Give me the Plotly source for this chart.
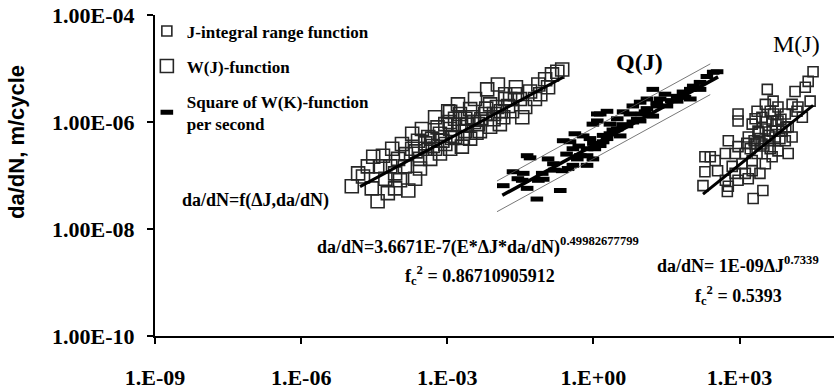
import numpy as np
import plotly.graph_objects as go

# ---- data (decimal exponents, log10) ----
# W(J)-function: large open squares
wj_x_exp = [-4.96, -4.73, -4.43, -4.55, -4.27, -4.07, -3.80, -4.52, -4.32, -4.01,
            -4.17, -3.87, -3.72, -3.60, -3.45, -3.31, -3.15, -3.04, -2.94, -2.84,
            -2.74, -2.63, -2.53, -2.37, -2.22, -2.12, -1.98, -1.85, -1.71, -1.61,
            -1.51, -1.40, -1.30, -1.13, -0.99, -0.85, -0.74, -0.64, -1.09, -2.53,
            -2.70, -2.94, -3.15, -3.35, -3.56, -3.66, -3.97, -4.07, -4.22, -4.63,
            -4.83, -4.38, -4.13, -3.93, -3.72, -3.52, -3.25, -2.98, -2.78, -2.43,
            -2.18, -1.96, -1.81, -1.67, -1.46, -2.33, -2.12, -1.92, -1.81, -2.84,
            -3.04, -3.39, -3.56, -3.25, -2.63, -2.49, -2.04, -1.59, -1.20, -0.93,
            -2.94, -3.45, -3.30, -3.10, -2.90, -2.75, -2.60, -2.45, -2.30, -2.20,
            -2.05, -1.90, -1.75, -3.65, -3.85, -2.68, -2.40, -2.95, -3.20]
wj_y_exp = [-7.20, -7.02, -7.48, -7.24, -7.06, -6.96, -7.28, -6.65, -6.63, -6.69,
            -6.83, -6.83, -6.50, -6.35, -6.50, -6.31, -6.22, -6.04, -6.13, -5.94,
            -5.85, -5.94, -5.76, -6.04, -5.85, -5.67, -5.72, -5.91, -5.57, -5.48,
            -5.57, -5.72, -5.43, -5.30, -5.20, -5.11, -5.06, -5.02, -5.48, -6.31,
            -6.46, -6.50, -6.59, -6.69, -6.87, -7.06, -7.09, -7.24, -7.33, -6.83,
            -6.96, -6.83, -6.50, -6.41, -6.22, -6.13, -5.91, -5.80, -5.67, -5.57,
            -5.39, -5.30, -5.48, -5.80, -5.91, -6.17, -6.09, -6.04, -5.57, -6.28,
            -6.41, -6.28, -6.69, -6.50, -6.17, -5.91, -5.85, -5.35, -5.57, -5.35,
            -5.81, -6.40, -6.45, -6.35, -6.30, -6.05, -6.05, -6.00, -5.95, -5.75,
            -5.95, -5.80, -5.70, -6.55, -6.60, -6.30, -6.20, -6.00, -6.10]

# Square of W(K)-function per second: dash markers
q_x_exp = [-1.85, -1.46, -1.36, -1.16, -1.30, -1.03, -0.93, -0.82, -0.68, -0.64,
           -0.48, -0.42, -0.27, -0.07, 0.14, 0.08, -0.52, -0.13, -0.01, 0.20,
           -1.65, -1.05, -1.44, -1.55, -1.36, -1.13, -0.62, -0.38, -0.21, -0.01,
           0.28, 0.49, 0.61, 0.81, 0.96, 1.10, 1.22, 1.22, 0.81, 0.49,
           0.28, 0.14, -0.13, -0.13, -0.42, 1.31, 1.51, 1.72, 1.84, 1.99,
           2.05, 2.19, 2.33, 2.46, 2.54, 1.72, 1.37, 1.99, 1.88, 0.08,
           0.96, 1.06, 0.69, 0.34, 0.55, -0.33, 0.03, 0.34, 0.75, 1.47, 2.19,
           0.00, 0.20, 0.40, 0.60, 0.90, 1.10, 1.30, 1.60, -0.30, -0.55, -0.80, 1.00]
q_y_exp = [-7.19, -7.09, -7.24, -7.44, -6.67, -7.07, -6.69, -6.78, -7.28, -6.91,
           -6.37, -6.50, -6.63, -6.31, -5.85, -5.98, -6.87, -6.50, -6.69, -6.37,
           -6.93, -6.96, -6.96, -7.06, -6.63, -7.09, -6.35, -6.22, -6.26, -6.04,
           -5.80, -5.94, -5.81, -5.70, -5.63, -5.57, -5.39, -5.89, -6.00, -6.13,
           -6.31, -6.44, -6.63, -6.81, -6.81, -5.70, -5.70, -5.52, -5.44, -5.39,
           -5.33, -5.26, -5.15, -5.07, -5.06, -5.61, -5.57, -5.57, -5.54, -5.85,
           -5.98, -5.81, -6.07, -6.22, -6.26, -6.69, -6.50, -6.04, -5.85, -5.48, -5.39,
           -6.40, -6.25, -6.15, -6.05, -5.95, -5.75, -5.65, -5.60, -6.45, -6.60, -6.90, -5.85]

# J-integral range function: small open squares
m_x_exp = [2.25, 2.29, 2.40, 2.29, 2.50, 2.71, 2.77, 2.75, 2.97, 3.18,
           3.48, 3.28, 2.71, 2.77, 2.97, 2.97, 2.97, 3.12, 3.26, 3.32,
           3.38, 3.46, 3.53, 3.57, 3.69, 3.67, 3.73, 3.79, 3.87, 3.94,
           4.00, 4.08, 4.14, 4.20, 4.29, 4.35, 4.41, 4.51, 4.45, 4.08,
           3.26, 3.18, 3.36, 3.53, 3.05, 2.91, 2.85, 2.55, 3.46, 3.59,
           3.79, 3.94, 4.00, 3.67, 3.26, 3.12, 2.91, 3.42, 3.36, 3.63,
           3.79, 4.18, 3.67, 3.53, 3.42, 3.63, 3.83, 3.22, 3.32,
           3.40, 3.55, 3.70, 3.85, 3.50, 3.30, 3.60, 3.75, 3.95, 3.15]
m_y_exp = [-7.19, -6.93, -6.65, -6.65, -6.72, -7.09, -7.20, -7.30, -7.09, -7.06,
           -7.28, -7.43, -6.59, -6.35, -5.85, -5.98, -6.46, -6.59, -6.72, -6.41,
           -6.17, -5.91, -5.67, -5.39, -5.61, -5.98, -6.28, -6.54, -6.17, -5.85,
           -6.09, -6.28, -5.43, -5.72, -5.91, -5.35, -5.24, -5.06, -5.61, -5.67,
           -6.04, -6.28, -6.59, -6.78, -6.78, -6.59, -6.83, -6.91, -6.41, -6.35,
           -5.98, -6.35, -6.59, -6.65, -6.91, -6.96, -6.96, -6.96, -5.80, -5.80,
           -5.72, -5.80, -6.17, -6.13, -6.31, -6.50, -6.31, -6.50, -5.94,
           -6.20, -6.00, -5.85, -5.95, -6.45, -6.35, -6.25, -6.05, -6.10, -6.40]

# power-law trend lines  y = coef * x ** exponent, drawn over [x_lo, x_hi]
wj_coef, wj_exp, wj_span = 1.38e-5, 0.49, [1.62e-5, 0.24]
q_coef, q_exp, q_span = 3.6671e-7, 0.49982677799, [0.0135, 363.0]
m_coef, m_exp, m_span = 1e-9, 0.7339, [178.0, 32400.0]
q_band_hi, q_band_lo, q_band_span = 2.1, 0.56, [0.0105, 251.0]

x_tickvals = [1e-9, 1e-6, 1e-3, 1e0, 1e3]
x_ticktext = ["1.E-09", "1.E-06", "1.E-03", "1.E+00", "1.E+03"]
y_tickvals = [1e-10, 1e-8, 1e-6, 1e-4]
y_ticktext = ["1.00E-10", "1.00E-08", "1.00E-06", "1.00E-04"]

SERIF = "Liberation Serif, Times New Roman, serif"
SANS = "Liberation Sans, Arial, sans-serif"


def pw(values):
    return 10.0 ** np.asarray(values)


def trend(coef, expo, span, factor=1.0):
    xs = np.asarray(span, dtype=float)
    return xs, factor * coef * xs ** expo


fig = go.Figure()

sq_line = dict(color="#262626", width=1.6)

fig.add_trace(go.Scatter(
    x=pw(m_x_exp), y=pw(m_y_exp), mode="markers", name="J-integral range function",
    legendgroup="a",
    marker=dict(symbol="square-open", size=10, color="#262626", line=sq_line)))
fig.add_trace(go.Scatter(
    x=pw(wj_x_exp), y=pw(wj_y_exp), mode="markers", name="W(J)-function",
    legendgroup="b",
    marker=dict(symbol="square-open", size=13, color="#262626", line=sq_line)))
fig.add_trace(go.Scatter(
    x=pw(q_x_exp), y=pw(q_y_exp), mode="markers",
    name="Square of W(K)-function<br>per second",
    legendgroup="c",
    marker=dict(symbol="line-ew", size=9, color="black",
                line=dict(color="black", width=5))))

# confidence band around Q(J)
for f in (q_band_hi, q_band_lo):
    bx, by = trend(q_coef, q_exp, q_band_span, f)
    fig.add_trace(go.Scatter(x=bx, y=by, mode="lines", showlegend=False,
                             line=dict(color="#555555", width=0.8)))

# trend lines
for c, e, s, w in ((wj_coef, wj_exp, wj_span, 3),
                   (q_coef, q_exp, q_span, 3.5),
                   (m_coef, m_exp, m_span, 3)):
    tx, ty = trend(c, e, s)
    fig.add_trace(go.Scatter(x=tx, y=ty, mode="lines", showlegend=False,
                             line=dict(color="black", width=w)))

axis_font = dict(family=SERIF, size=22, color="black", weight="bold")
common_axis = dict(type="log", showgrid=False, zeroline=False, showline=True,
                   linewidth=2, linecolor="black", ticks="outside", ticklen=6,
                   tickwidth=2, tickcolor="black", tickfont=axis_font)

fig.update_xaxes(range=[-9, 4.94], tickvals=x_tickvals, ticktext=x_ticktext,
                 ticklabelstandoff=15, **common_axis)
fig.update_yaxes(range=[-10, -4], tickvals=y_tickvals, ticktext=y_ticktext,
                 ticklabelstandoff=8, **common_axis)

eq_font = dict(family=SERIF, size=18, color="black", weight="bold")
notes = [
    dict(text="da/dN=f(\u0394J,da/dN)", x=0.037, y=0.423, xanchor="left", font=eq_font),
    dict(text="da/dN=3.6671E-7(E*\u0394J*da/dN)<sup>0.49982677799</sup>",
         x=0.236, y=0.279, xanchor="left", font=eq_font),
    dict(text="f<sub>c</sub><sup>2</sup> = 0.86710905912", x=0.365, y=0.189,
         xanchor="left", font=eq_font),
    dict(text="da/dN= 1E-09\u0394J<sup>0.7339</sup>", x=0.736, y=0.222,
         xanchor="left", font=eq_font),
    dict(text="f<sub>c</sub><sup>2</sup> = 0.5393", x=0.792, y=0.125,
         xanchor="left", font=eq_font),
    dict(text="Q(J)", x=0.714, y=0.855, xanchor="center",
         font=dict(family=SERIF, size=24, color="black", weight="bold")),
    dict(text="M(J)", x=0.9455, y=0.910, xanchor="center",
         font=dict(family=SERIF, size=24, color="black")),
    dict(text="da/dN, m/cycle", x=-0.203, y=0.605, xanchor="center", textangle=-90,
         font=dict(family=SANS, size=22, color="black", weight="bold")),
]
for n in notes:
    fig.add_annotation(xref="paper", yref="paper", yanchor="middle",
                       showarrow=False, **n)

fig.update_layout(
    width=834, height=390,
    margin=dict(l=155, r=0, t=15, b=51),
    paper_bgcolor="white", plot_bgcolor="white",
    font=dict(family=SERIF, color="black"),
    legend=dict(x=-0.012, y=1.005, xanchor="left", yanchor="top",
                bgcolor="rgba(0,0,0,0)", borderwidth=0, tracegroupgap=10,
                itemsizing="trace", itemwidth=30,
                font=dict(family=SERIF, size=17, color="black", weight="bold")),
)

fig.write_html("out.html")
